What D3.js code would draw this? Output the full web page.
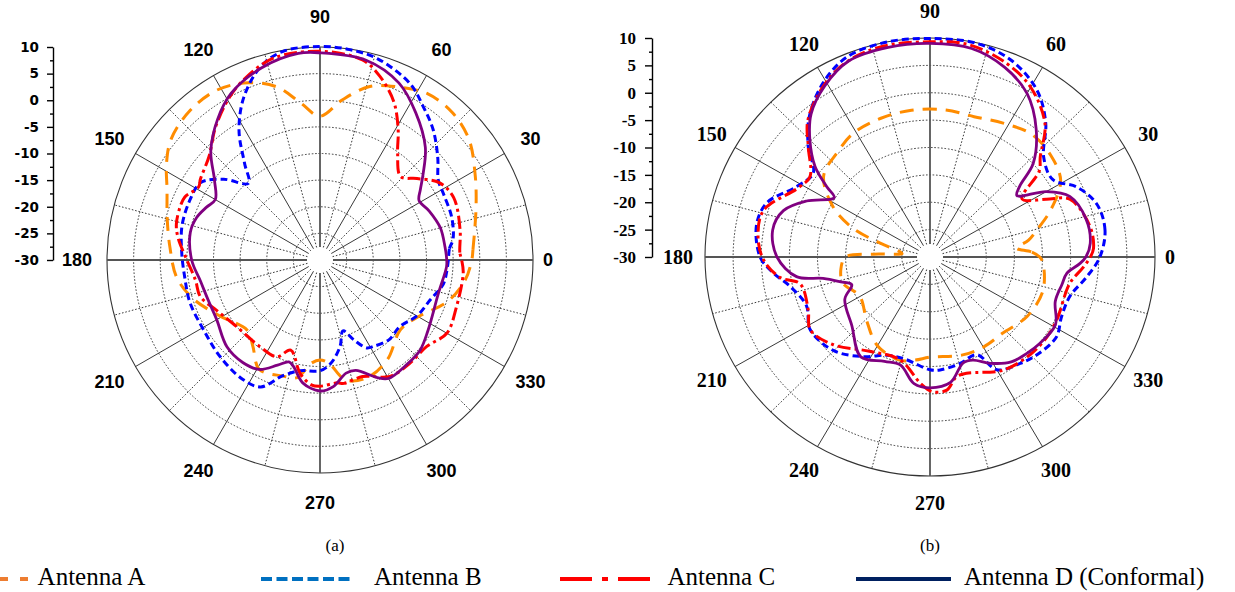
<!DOCTYPE html>
<html><head><meta charset="utf-8">
<script src="https://cdn.jsdelivr.net/npm/d3@7"></script>
<style>body{margin:0;background:#fff}svg{display:block}</style>
</head><body><svg id="c" width="1235" height="592"></svg>
<script>
// ---- data ----
const radialTicks = [10, 5, 0, -5, -10, -15, -20, -25, -30];
const minorTicks = [7.5, 2.5, -2.5, -7.5, -12.5, -17.5, -22.5, -27.5];
const angleLabels = [0, 30, 60, 90, 120, 150, 180, 210, 240, 270, 300, 330];
const seriesNames = ["Antenna A", "Antenna B", "Antenna C", "Antenna D (Conformal)"];
const panelNames = ["(a)", "(b)"];

// panel (a): [angle deg, gain dB]
const a_A = [[0,-1.5],[4,-1.2],[19,1.0],[29,3.3],[39,6.0],[48,7.2],[57,7.2],[66,5.6],[74,3.9],[82,0.4],[90,-3.0],[97,-0.3],[104,3.5],[112,5.9],[121,7.3],[131,7.2],[141,6.0],[148,4.0],[155,1.7],[165,-0.3],[175,-1.7],[187,-2.9],[197,-5.1],[209,-8.4],[224,-11.0],[232,-9.5],[241,-6.5],[252,-7.1],[259,-7.5],[265,-10.5],[270,-11.2],[275,-10.5],[282,-7.0],[292,-6.2],[304,-7.4],[319,-10.0],[330,-8.7],[342,-4.8],[352,-2.5]];
const a_B = [[0,-5.9],[5,-5.6],[9,-4.7],[18,-4.0],[28,-3.7],[34,-3.2],[41,-0.7],[49,2.4],[56,4.7],[63,7.2],[74,9.3],[82,9.9],[90,10.1],[100,9.8],[107,8.0],[115,3.8],[122,-1.3],[128,-7.0],[133,-10.3],[140,-6.4],[147,-3.3],[155,-3.1],[166,-3.3],[177,-4.0],[188,-4.4],[198,-4.3],[211,-4.5],[224,-3.9],[237,-3.3],[245,-3.7],[252,-7.1],[260,-8.9],[270,-9.2],[276,-10.5],[283,-13.3],[288,-16.0],[293,-13.7],[298,-11.3],[302,-10.9],[311,-10.2],[320,-10.5],[330,-9.0],[340,-8.0],[349,-6.4],[355,-6.1]];
const a_C = [[0,-3.4],[3,-3.7],[12,-3.1],[25,-2.3],[33,-3.3],[40,-6.2],[46,-8.2],[54,-5.2],[59,-1.5],[65,2.8],[72,6.3],[78,8.4],[90,9.2],[103,8.9],[112,7.0],[119,5.0],[128,1.8],[137,-1.5],[146,-2.9],[149,-3.4],[155,-2.0],[159,-1.9],[166,-2.2],[171,-3.0],[180,-5.0],[189,-6.3],[197,-6.5],[206,-8.4],[219,-10.0],[235,-10.2],[246,-10.1],[252,-12.2],[260,-8.4],[266,-6.5],[270,-6.3],[278,-6.7],[281,-6.4],[290,-6.7],[301,-4.5],[311,-4.3],[321,-4.2],[330,-2.5],[341,-2.9],[355,-3.0]];
const a_D = [[0,-6.2],[6,-6.4],[15,-6.6],[24,-7.5],[31,-8.3],[35,-7.0],[40,-4.7],[47,-1.0],[57,3.0],[66,6.4],[77,8.5],[90,8.9],[96,9.0],[107,7.7],[118,5.5],[126,2.7],[135,-1.0],[143,-5.2],[150,-7.3],[155,-6.5],[161,-5.5],[168,-5.1],[180,-5.9],[190,-7.2],[200,-7.7],[210,-7.6],[223,-6.1],[233,-5.9],[241,-6.5],[248,-8.7],[253,-10.0],[256,-9.4],[262,-6.7],[270,-5.4],[276,-6.1],[283,-8.2],[288,-8.2],[296,-5.4],[300,-4.3],[310,-4.5],[318,-4.7],[327,-5.8],[344,-6.9],[357,-6.2]];

// panel (b)
const b_A = [[0,-10.5],[3,-12.0],[6,-14.5],[10,-12.2],[14.5,-10.4],[22,-6.8],[31,-2.9],[41,-1.6],[51,-1.2],[62,-2.3],[73,-3.2],[84,-3.0],[97,-3.0],[109,-3.2],[121,-3.6],[131,-4.8],[142,-6.0],[152,-10.5],[159,-15.3],[164,-20.8],[170,-24.6],[173,-25.0],[177,-20.0],[180,-15.0],[188,-14.0],[197,-13.8],[210,-15.6],[226,-13.8],[240,-11.3],[254,-10.4],[262,-11.0],[270,-11.7],[288,-11.2],[300,-11.0],[313,-11.0],[328,-9.6],[343,-9.0],[357,-9.9]];
const b_B = [[0,0.2],[9,1.5],[18,1.2],[26,-0.9],[33,-4.0],[42,-2.8],[50,2.0],[58,5.9],[68,8.7],[78,9.9],[90,9.9],[101,10.0],[112,9.4],[121,7.0],[130,3.4],[137,-0.4],[143.6,-4.2],[151.6,-3.0],[161,0.6],[169,1.4],[180,0.2],[186,-2.0],[192,-4.5],[202,-6.3],[212,-4.9],[225,-5.8],[237,-8.3],[247,-10.5],[257,-10.8],[270,-9.4],[275,-9.3],[285,-9.8],[295,-10.3],[300,-6.2],[309.5,-4.8],[317,-3.9],[327,-3.2],[335,-4.2],[344,-4.1],[352.6,-1.9]];
const b_C = [[0,-1.5],[3,-0.9],[11,-1.0],[23,-3.0],[27,-6.8],[33,-10.5],[39,-5.0],[43,-3.2],[50,1.8],[60,5.8],[69,7.9],[80,9.4],[90,9.3],[102,9.4],[112.5,8.6],[121,6.6],[131,3.1],[137,-0.4],[145.5,-4.1],[151.6,-3.4],[164,0.8],[173,0.8],[181,-0.4],[188,-3.1],[192,-6.4],[204,-6.3],[212,-4.9],[223,-6.5],[238,-9.7],[254,-10.5],[266,-6.8],[271,-5.4],[277,-5.5],[282,-7.6],[287,-7.8],[302,-5.6],[315,-4.8],[325,-4.6],[333,-4.7],[349,-4.7],[356,-2.7]];
const b_D = [[0,-2.3],[5,-1.4],[14,-1.4],[24,-2.8],[30,-6.1],[36,-10.9],[39,-9.5],[43,-4.9],[51,0.0],[60,4.5],[69,7.1],[79,8.8],[90,9.0],[101,9.0],[112,8.6],[121,6.4],[129,3.6],[135,0.2],[141,-3.7],[145,-7.6],[147.5,-9.8],[155,-5.8],[162,-2.6],[170,-1.6],[180,-2.8],[188.6,-6.0],[191.6,-10.6],[196,-13.5],[200,-15.2],[207,-13.0],[222,-11.3],[236,-8.0],[247,-9.3],[255,-9.6],[263,-6.7],[270,-6.1],[279,-6.8],[287,-9.8],[292,-9.7],[299,-7.8],[307,-6.0],[314,-5.4],[321,-4.9],[331,-4.5],[340,-6.3],[348,-6.0],[353,-5.5],[357.5,-3.3]];

// ---- styles ----
const lineStyles = [
  {color:"#ff8c00", dash:"14,9", w:3},
  {color:"#0000ff", dash:"7,4", w:3},
  {color:"#ff0000", dash:"13,4,3,4", w:3},
  {color:"#800080", dash:null, w:2.8}
];
const legendStyles = [
  {color:"#ed7d31", dash:"8,12", x0:0, x1:28, tx:37.6},
  {color:"#0070c0", dash:"11,4.5", x0:261, x1:354, tx:374},
  {color:"#ff0000", dash:"32,10,6,10", x0:560, x1:651, tx:667.5},
  {color:"#002060", dash:null, x0:856, x1:951, tx:964}
];

const panels = [
  {cx:320, cy:260, rx:213, ry:213, data:[a_A,a_B,a_C,a_D], axisX:53, tickSize:6, tickPad:8,
   tickFont:"'DejaVu Sans', sans-serif", tickFS:13.5, angFont:"'Liberation Sans', Arial, sans-serif", angFS:18, labOff:30, zeroOff:15, nameX:335},
  {cx:930, cy:257, rx:225, ry:219, data:[b_A,b_B,b_C,b_D], axisX:652, tickSize:7, tickPad:9,
   tickFont:"'Liberation Serif', 'DejaVu Serif', serif", tickFS:17, angFont:"'Liberation Serif', 'DejaVu Serif', serif", angFS:20, labOff:27, zeroOff:15, nameX:930}
];

const svg = d3.select("#c");
const rad = d => d * Math.PI / 180;

panels.forEach((p, pi) => {
  const g = svg.append("g");
  const rX = d3.scaleLinear().domain([-30, 10]).range([0, p.rx]);
  const rY = d3.scaleLinear().domain([-30, 10]).range([0, p.ry]);
  const r0 = 13;

  // rings
  radialTicks.filter(v => v > -30).forEach(v => {
    g.append("ellipse").attr("cx", p.cx).attr("cy", p.cy)
      .attr("rx", rX(v)).attr("ry", rY(v)).attr("fill", "none")
      .attr("stroke", v === 10 ? "#333" : "#222")
      .attr("stroke-width", v === 10 ? 1.1 : 0.9)
      .attr("stroke-dasharray", v === 10 ? null : "1.6,1.8");
  });
  // spokes
  d3.range(0, 360, 15).forEach(a => {
    const c = Math.cos(rad(a)), s = Math.sin(rad(a));
    const main = a % 90 === 0, solid = a % 30 === 0;
    g.append("line")
      .attr("x1", p.cx + r0 * c).attr("y1", p.cy - r0 * s)
      .attr("x2", p.cx + p.rx * c).attr("y2", p.cy - p.ry * s)
      .attr("stroke", main ? "#555" : "#222")
      .attr("stroke-width", main ? 1.8 : 0.9)
      .attr("stroke-dasharray", solid ? null : "1.6,1.8");
  });

  // series
  const line = d3.line()
    .x(d => p.cx + rX(Math.max(-30, d[1])) * Math.cos(rad(d[0])))
    .y(d => p.cy - rY(Math.max(-30, d[1])) * Math.sin(rad(d[0])))
    .curve(d3.curveCatmullRomClosed.alpha(0.5));
  p.data.forEach((ser, si) => {
    const st = lineStyles[si];
    g.append("path").attr("d", line(ser)).attr("fill", "none")
      .attr("stroke", st.color).attr("stroke-width", st.w)
      .attr("stroke-dasharray", st.dash).attr("stroke-linejoin", "round");
  });

  // white hub
  g.append("circle").attr("cx", p.cx).attr("cy", p.cy).attr("r", r0 - 1).attr("fill", "#fff");

  // angle labels
  angleLabels.forEach(a => {
    const off = a === 0 ? p.zeroOff : p.labOff;
    g.append("text")
      .attr("x", p.cx + (p.rx + off) * Math.cos(rad(a)))
      .attr("y", p.cy - (p.ry + off) * Math.sin(rad(a)))
      .attr("text-anchor", "middle").attr("dy", "0.35em")
      .attr("font-family", p.angFont).attr("font-size", p.angFS).attr("font-weight", "bold")
      .text(a);
  });

  // radial axis
  const y = d3.scaleLinear().domain([-30, 10]).range([p.cy, p.cy - p.ry]);
  const ax = g.append("g").attr("transform", `translate(${p.axisX},0)`)
    .call(d3.axisLeft(y).tickValues(radialTicks).tickSize(p.tickSize).tickSizeOuter(0)
      .tickPadding(p.tickPad).tickFormat(d => String(d)));
  ax.select(".domain").attr("stroke", "#000").attr("stroke-width", 1.4);
  ax.selectAll(".tick line").attr("stroke", "#000").attr("stroke-width", 1.4);
  ax.selectAll("text").attr("font-family", p.tickFont).attr("font-size", p.tickFS)
    .attr("font-weight", "bold").attr("fill", "#000");
  const mx = g.append("g").attr("transform", `translate(${p.axisX},0)`)
    .call(d3.axisLeft(y).tickValues(minorTicks).tickSize(3).tickSizeOuter(0).tickFormat(""));
  mx.select(".domain").remove();
  mx.selectAll(".tick line").attr("stroke", "#000").attr("stroke-width", 1.4);

  // panel name
  svg.append("text").attr("x", p.nameX).attr("y", 551).attr("text-anchor", "middle")
    .attr("font-family", "'Liberation Serif', 'Times New Roman', serif").attr("font-size", 17)
    .text(panelNames[pi]);
});

// legend
const lg = svg.append("g");
legendStyles.forEach((st, i) => {
  lg.append("line").attr("x1", st.x0).attr("x2", st.x1).attr("y1", 579).attr("y2", 579)
    .attr("stroke", st.color).attr("stroke-width", 4).attr("stroke-dasharray", st.dash);
  lg.append("text").attr("x", st.tx).attr("y", 585)
    .attr("font-family", "'Liberation Serif', 'Times New Roman', serif").attr("font-size", 25)
    .text(seriesNames[i]);
});
</script>
</body></html>
